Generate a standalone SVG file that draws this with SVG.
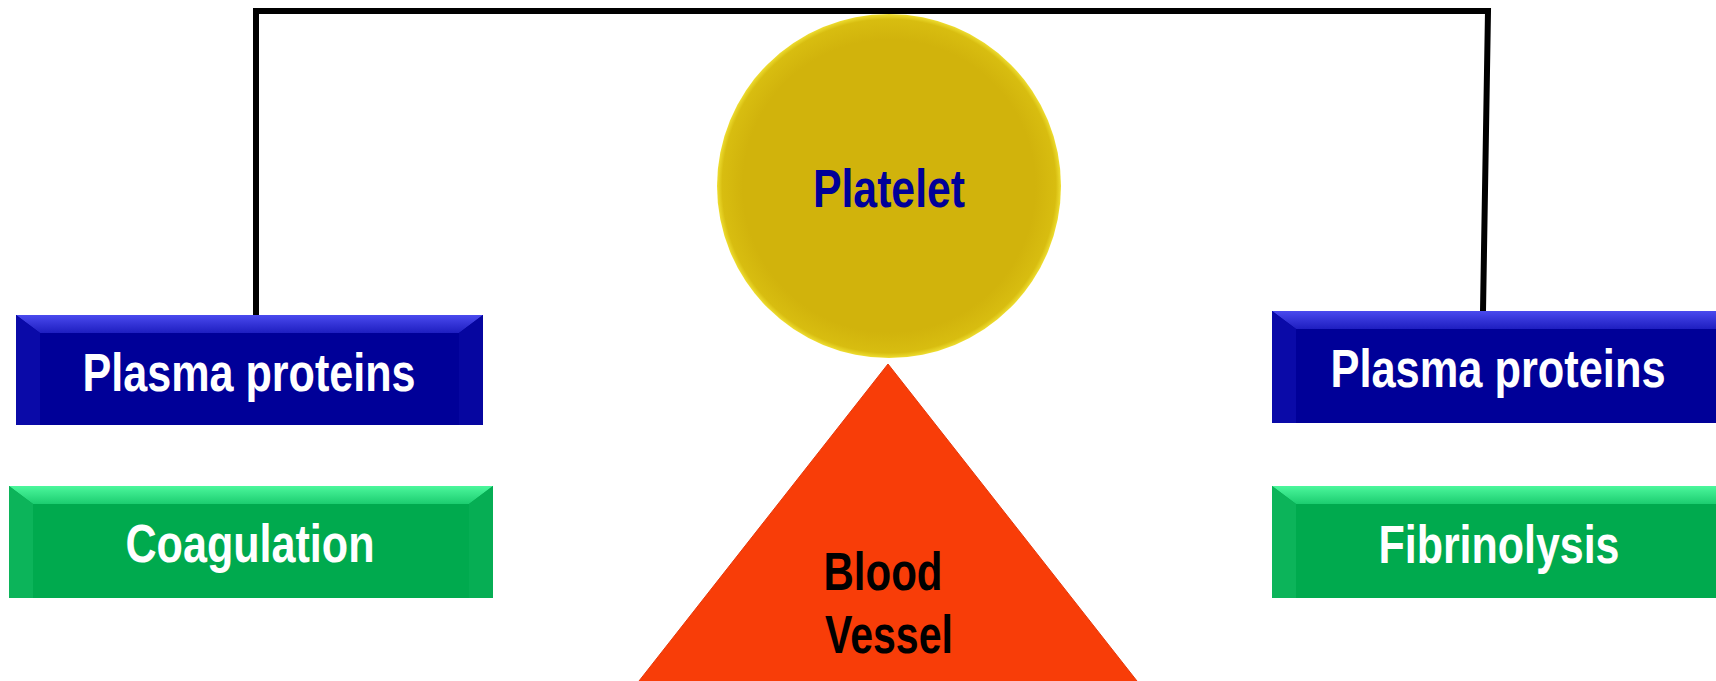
<svg xmlns="http://www.w3.org/2000/svg" width="1716" height="681" viewBox="0 0 1716 681">
<style>
.lbl{font-family:"Liberation Sans",Arial,sans-serif;font-size:53px;font-weight:bold;}
.w{fill:#ffffff;}
.conn{fill:none;stroke:#000;stroke-width:6;stroke-linejoin:miter;}
</style>
<defs>
<linearGradient id="blueTop" x1="0" y1="0" x2="0" y2="1"><stop offset="0" stop-color="#4a4aee"/><stop offset="1" stop-color="#1e1ec0"/></linearGradient>
<linearGradient id="greenTop" x1="0" y1="0" x2="0" y2="1"><stop offset="0" stop-color="#4cf79c"/><stop offset="1" stop-color="#1ccd70"/></linearGradient>
<radialGradient id="ball" cx="0.5" cy="0.5" r="0.5"><stop offset="0.85" stop-color="#d1b30c"/><stop offset="0.97" stop-color="#d8bd10"/><stop offset="1" stop-color="#eedd30"/></radialGradient>
</defs>
<rect width="1716" height="681" fill="#ffffff"/>
<g id="connectors">
<path class="conn" d="M256,315 V11 H1488 L1483,311"/>
</g>
<g id="platelet">
<circle cx="889" cy="186" r="172" fill="url(#ball)"/>
<text class="lbl" x="889" y="207" text-anchor="middle" fill="#000099" textLength="152" lengthAdjust="spacingAndGlyphs">Platelet</text>
</g>
<g id="blood-vessel">
<polygon points="888,364 628,695 1148,695" fill="#f83d08" stroke="#e8380a" stroke-width="1"/>
<text class="lbl" x="883" y="590" text-anchor="middle" fill="#000" textLength="119" lengthAdjust="spacingAndGlyphs">Blood</text>
<text class="lbl" x="889" y="653" text-anchor="middle" fill="#000" textLength="128" lengthAdjust="spacingAndGlyphs">Vessel</text>
</g>
<g id="plasma-left">
<rect x="16" y="315" width="467" height="110" fill="#000098"/>
<polygon points="16,315 483,315 459,333 40,333" fill="url(#blueTop)"/>
<polygon points="16,315 40,333 40,425 16,425" fill="#0a0aa8"/>
<polygon points="483,315 459,333 459,425 483,425" fill="#0606a0"/>
<text class="lbl w" x="249" y="391" text-anchor="middle" textLength="333" lengthAdjust="spacingAndGlyphs">Plasma proteins</text>
</g>
<g id="coagulation">
<rect x="9" y="486" width="484" height="112" fill="#00aa4e"/>
<polygon points="9,486 493,486 469,504 33,504" fill="url(#greenTop)"/>
<polygon points="9,486 33,504 33,598 9,598" fill="#0cb45a"/>
<polygon points="493,486 469,504 469,598 493,598" fill="#06ae54"/>
<text class="lbl w" x="250" y="562" text-anchor="middle" textLength="249" lengthAdjust="spacingAndGlyphs">Coagulation</text>
</g>
<g id="plasma-right">
<rect x="1272" y="311" width="444" height="112" fill="#000098"/>
<polygon points="1272,311 1716,311 1716,329 1296,329" fill="url(#blueTop)"/>
<polygon points="1272,311 1296,329 1296,423 1272,423" fill="#0a0aa8"/>
<text class="lbl w" x="1498" y="387" text-anchor="middle" textLength="335" lengthAdjust="spacingAndGlyphs">Plasma proteins</text>
</g>
<g id="fibrinolysis">
<rect x="1272" y="486" width="444" height="112" fill="#00aa4e"/>
<polygon points="1272,486 1716,486 1716,504 1296,504" fill="url(#greenTop)"/>
<polygon points="1272,486 1296,504 1296,598 1272,598" fill="#0cb45a"/>
<text class="lbl w" x="1499" y="563" text-anchor="middle" textLength="241" lengthAdjust="spacingAndGlyphs">Fibrinolysis</text>
</g>
</svg>
